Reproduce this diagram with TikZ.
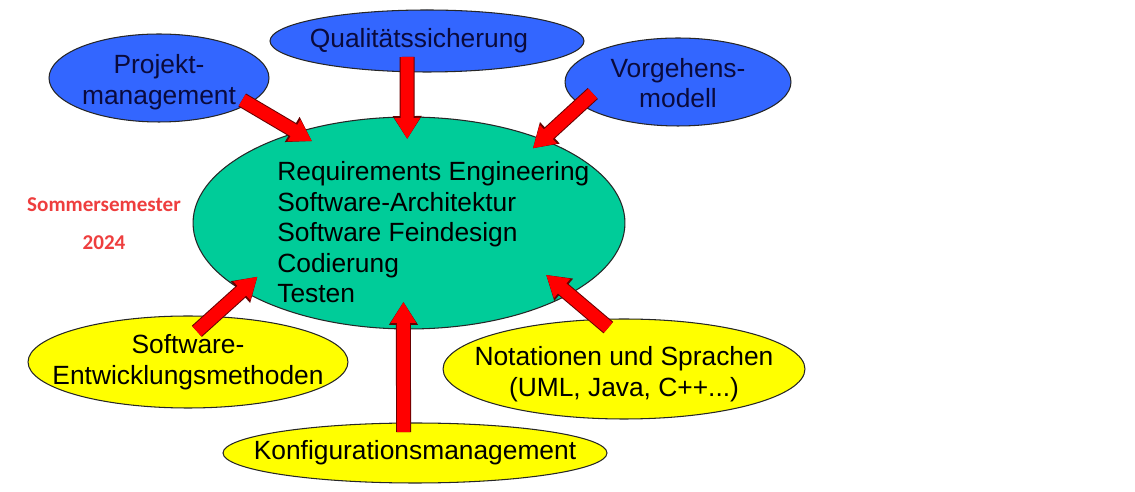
\documentclass[tikz,border=0pt]{standalone}
\usepackage{fontspec}
\setmainfont{Liberation Sans}
\newfontfamily\termfont{Carlito}
\usetikzlibrary{shapes.geometric,arrows.meta}
\definecolor{bubbleblue}{RGB}{51,102,255}
\definecolor{bubblegreen}{RGB}{0,204,153}
\definecolor{bubbleyellow}{RGB}{255,255,0}
\definecolor{termred}{RGB}{238,62,62}
\definecolor{navytext}{RGB}{10,10,60}
\begin{document}
\begin{tikzpicture}[x=0.02cm, y=-0.02cm,
	bubble/.style={ellipse, draw=black!85, line width=0.6pt, inner sep=0pt, outer sep=0pt},
	bubbletext/.style={font=\fontsize{15}{17.4}\selectfont, align=center},
	term/.style={font=\termfont\bfseries\fontsize{12}{14}\selectfont, text=termred},
	push/.style={draw=red, line width=0.26cm, -{Triangle[width=0.48cm,length=0.42cm]},
		preaction={draw=black!60!red, line width=0.30cm, -{Triangle[width=0.55cm,length=0.46cm]}}}]
	\useasboundingbox (0,0) rectangle (1135,492);
	\node (QS) at (427, 41)	[bubble, fill=bubbleblue, minimum width=6.28cm, minimum height=1.24cm, label={[bubbletext, text=navytext, xshift=-0.16cm]center:Qualitätssicherung}]	{};
	\node (PM) at (159, 78)	[bubble, fill=bubbleblue, minimum width=4.40cm, minimum height=1.76cm, label={[bubbletext, text=navytext, yshift=-0.08cm]center:Projekt-\\management}]	{};
	\node (VM) at (678, 82)	[bubble, fill=bubbleblue, minimum width=4.52cm, minimum height=1.76cm, label={[bubbletext, text=navytext, yshift=-0.02cm]center:Vorgehens-\\modell}]	{};
	\node (RE) at (409,223)	[bubble, fill=bubblegreen, minimum width=8.64cm, minimum height=4.24cm]	{};
	\node (EM) at (188,362)	[bubble, fill=bubbleyellow, minimum width=6.40cm, minimum height=1.84cm, label={[bubbletext]center:Software-\\Entwicklungsmethoden}]	{};
	\node (NS) at (624,369)	[bubble, fill=bubbleyellow, minimum width=7.24cm, minimum height=2.00cm, label={[bubbletext, yshift=-0.1cm]center:Notationen und Sprachen\\(UML, Java, C++...)}]	{};
	\node (KM) at (415,453)	[bubble, fill=bubbleyellow, minimum width=7.68cm, minimum height=1.20cm, label={[bubbletext]center:Konfigurationsmanagement}]	{};
	\node (RT) at (277,161)	[anchor=north west, inner sep=0pt, align=left, font=\fontsize{15}{17.4}\selectfont]	{Requirements Engineering\\Software-Architektur\\Software Feindesign\\Codierung\\Testen};
	\node (SS) at (104,205)	[term]	{Sommersemester};
	\node (YR) at (104,243)	[term]	{2024};
	\draw[push, shorten <=-0.144cm, shorten >=-0.346cm] (PM.-16.1) -- (RE.141.6);
	\draw[push, shorten <=-0.295cm, shorten >=-0.440cm] (QS.-123) -- (RE.91.1);
	\draw[push, shorten <=-0.324cm, shorten >=-0.258cm] (VM.-167.3) -- (RE.32.3);
	\draw[push, shorten <=-0.440cm, shorten >=-0.408cm] (EM.61.5) -- (RE.-158.5);
	\draw[push, shorten <=-0.180cm, shorten >=-0.540cm] (KM.111.8) -- (RE.-93.2);
	\draw[push, shorten <=-0.250cm, shorten >=-0.598cm] (NS.117.7) -- (RE.-24.9);
\end{tikzpicture}
\end{document}
